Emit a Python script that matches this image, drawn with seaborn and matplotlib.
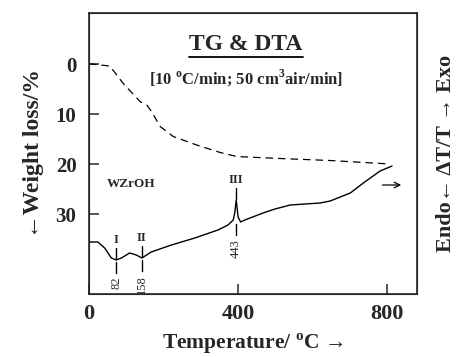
import matplotlib
matplotlib.use("Agg")
import matplotlib.pyplot as plt
import numpy as np
import seaborn as sns

# TG curve: weight loss (%) against temperature (deg C)
tg_temp = [0, 7, 56, 92, 137, 155, 168, 191, 226, 289, 352, 396, 513, 647, 808]
tg_loss = [0, 0, 0.4, 3.9, 7.5, 8.2, 9.5, 12.5, 14.5, 16.2, 17.7, 18.5, 18.9, 19.3, 20.0]

# DTA curve: delta T / T in arbitrary units (up = exo)
dta_temp = [0, 24, 42, 60, 73, 87, 109, 127, 142, 167, 221, 284, 346, 373,
            387, 391, 395, 400, 407, 418, 467, 499, 540, 620, 647, 701, 736, 781, 813]
dta_signal = [52, 52, 46, 36, 34, 36, 41, 39, 36, 42, 49, 56, 64, 69,
              74, 81, 94, 77, 72, 74, 81, 85, 89, 91, 93, 101, 111, 123, 128]

# marked DTA peaks
peak_names = ["I", "II", "III"]
peak_temp = [73, 142, 395]
peak_labels = ["82", "158", "443"]

sns.set_style("ticks")
plt.rcParams["font.family"] = ["Liberation Serif", "DejaVu Sans"]
plt.rcParams["font.weight"] = "bold"
plt.rcParams["mathtext.fontset"] = "custom"
plt.rcParams["mathtext.rm"] = "Liberation Serif:bold"
plt.rcParams["mathtext.bf"] = "Liberation Serif:bold"

fig = plt.figure(figsize=(4.62, 3.57), dpi=100)
ax = fig.add_axes([0.1926, 0.1765, 0.71, 0.787])

sns.lineplot(x=tg_temp, y=tg_loss, ax=ax, color="black", linewidth=0.9,
             linestyle=(0, (6, 4)))
ax.set_xlim(0, 880)
ax.set_ylim(46, -10.2)
ax.set_xticks([0, 400, 800])
ax.set_yticks([0, 10, 20, 30])
ax.tick_params(direction="in", length=7, width=1.1, labelsize=16, pad=7)
ax.tick_params(axis="y", labelsize=15, pad=9)
for s in ax.spines.values():
    s.set_linewidth(1.2)
ax.set_xlabel("Temperature/ $^{\\mathbf{o}}$C \u2192", fontsize=15.5,
              fontweight="bold", labelpad=6)
ax.set_ylabel("\u2190Weight loss/%", fontsize=17, fontweight="bold", labelpad=8)

ax2 = ax.twinx()
sns.lineplot(x=dta_temp, y=dta_signal, ax=ax2, color="black", linewidth=1.0)
ax2.set_ylim(0, 281)
ax2.set_yticks([])
ax2.set_ylabel("Endo\u2190 \u0394T/T \u2192 Exo", fontsize=16, fontweight="bold",
               labelpad=14)

grid = np.linspace(0, 813, 1600)
curve = np.interp(grid, dta_temp, dta_signal)
for name, t, lab in zip(peak_names, peak_temp, peak_labels):
    top = np.interp(t, dta_temp, dta_signal)
    win = (grid > t - 12) & (grid < t + 12)
    base = curve[win].min()
    ax2.plot([t, t], [top + 1, top + 12], color="black", lw=1.0)
    ax2.plot([t, t], [base - 13, base - 2], color="black", lw=1.0)
    ax2.text(t, top + 14, name, ha="center", va="bottom", fontsize=9)
    ax2.text(t, base - 17, lab, ha="center", va="top", fontsize=9,
             fontweight="normal", rotation=90)

ax2.annotate("", xy=(845, 109), xytext=(780, 109),
             arrowprops=dict(arrowstyle="->", color="black", lw=0.9))

ax.text(0.055, 0.39, "WZrOH", transform=ax.transAxes, fontsize=9.5,
        ha="left", va="center")
title = ax.text(0.479, 0.868, "TG & DTA", transform=ax.transAxes, fontsize=17,
                ha="center", va="baseline")
ax.text(0.479, 0.745, "[10 $^{\\mathbf{o}}$C/min; 50 cm$^{\\mathbf{3}}$air/min]",
        transform=ax.transAxes, fontsize=12, ha="center", va="baseline")

# underline the title
fig.canvas.draw()
bb = title.get_window_extent().transformed(ax.transAxes.inverted())
ax.plot([bb.x0, bb.x1], [bb.y0 - 0.005, bb.y0 - 0.005], transform=ax.transAxes,
        color="black", lw=1.3)

fig.savefig("out.png", dpi=100)
